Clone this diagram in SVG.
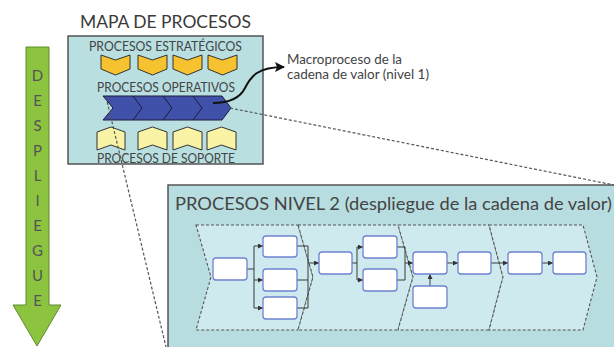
<svg xmlns="http://www.w3.org/2000/svg" width="614" height="347" viewBox="0 0 614 347">
<defs>
<style>
.t{font-family:Lato,"Liberation Sans",sans-serif;fill:#444}
.box{fill:#fff;stroke:#6f82cf;stroke-width:1.3}
.con{fill:none;stroke:#3a3a3a;stroke-width:1}
.dash{fill:none;stroke:#555;stroke-width:1.2;stroke-dasharray:3 2}
.seg{fill:#cfeaee;stroke:#555;stroke-width:1.1;stroke-dasharray:3 2}
.y1{fill:#f6c22f;stroke:#333;stroke-width:1}
.y2{fill:#f9f3a5;stroke:#333;stroke-width:1}
.lt{font-family:Lato,"Liberation Sans",sans-serif;fill:#555;font-size:15px;text-anchor:middle}
</style>
<marker id="ah" viewBox="0 0 6 6" refX="6" refY="3" markerWidth="5" markerHeight="5" orient="auto" markerUnits="userSpaceOnUse">
<path d="M0,0 L6,3 L0,6 Z" fill="#333"/>
</marker>
<marker id="big" viewBox="0 0 10 10" refX="9" refY="5" markerWidth="10" markerHeight="10" orient="auto" markerUnits="userSpaceOnUse">
<path d="M0,0 L10,5 L0,10 L2,5 Z" fill="#111"/>
</marker>
</defs>

<g id="despliegue">
<path d="M26,47 H49 V305 H61 L37,346 L13,305 H26 Z" fill="#8cc43f" stroke="#5d8a2c" stroke-width="1"/>
<text class="lt" x="37.5" y="81">D</text>
<text class="lt" x="37.5" y="106">E</text>
<text class="lt" x="37.5" y="131">S</text>
<text class="lt" x="37.5" y="156">P</text>
<text class="lt" x="37.5" y="181">L</text>
<text class="lt" x="37.5" y="206">I</text>
<text class="lt" x="37.5" y="231">E</text>
<text class="lt" x="37.5" y="256">G</text>
<text class="lt" x="37.5" y="281">U</text>
<text class="lt" x="37.5" y="306">E</text>
</g>

<g id="mapa">
<text class="t" x="80" y="28" font-size="18" textLength="171" lengthAdjust="spacingAndGlyphs" style="fill:#3a3a3a">MAPA DE PROCESOS</text>
<rect x="68" y="36" width="195" height="128" fill="#b9dfe1" stroke="#555" stroke-width="1.5"/>
<text class="t" x="89" y="51" font-size="12.5" textLength="153" lengthAdjust="spacingAndGlyphs">PROCESOS ESTRATÉGICOS</text>
<g id="estrategicos">
<path class="y1" d="M101,55 L115.5,60 L130,55 V69 L115.5,75 L101,69 Z"/>
<path class="y1" d="M138,55 L152.5,60 L167,55 V69 L152.5,75 L138,69 Z"/>
<path class="y1" d="M173,55 L187.5,60 L202,55 V69 L187.5,75 L173,69 Z"/>
<path class="y1" d="M208,55 L222.5,60 L237,55 V69 L222.5,75 L208,69 Z"/>
</g>
<text class="t" x="97" y="92" font-size="12.5" textLength="138" lengthAdjust="spacingAndGlyphs">PROCESOS OPERATIVOS</text>
<g id="operativos">
<path d="M103,96 H222 L231,108 L222,120 H103 L113,108 Z" fill="#3f51a8" stroke="#1c1c3c" stroke-width="1"/>
<path d="M133,96 L142,108 L133,120 M163,96 L172,108 L163,120 M193,96 L202,108 L193,120" fill="none" stroke="#1c1c3c" stroke-width="1"/>
</g>
<g id="soporte">
<path class="y2" d="M97,132 L111,127 L125,132 V150 L111,145 L97,150 Z"/>
<path class="y2" d="M138,132 L152.5,127 L167,132 V150 L152.5,145 L138,150 Z"/>
<path class="y2" d="M173,132 L187.5,127 L202,132 V150 L187.5,145 L173,150 Z"/>
<path class="y2" d="M207,132 L221.5,127 L236,132 V150 L221.5,145 L207,150 Z"/>
</g>
<text class="t" x="97" y="163" font-size="12.5" textLength="138" lengthAdjust="spacingAndGlyphs">PROCESOS DE SOPORTE</text>
</g>

<g id="macro-label">
<text class="t" x="287" y="64" font-size="12.5" textLength="115" lengthAdjust="spacingAndGlyphs">Macroproceso de la</text>
<text class="t" x="287" y="79" font-size="12.5" textLength="142" lengthAdjust="spacingAndGlyphs">cadena de valor (nivel 1)</text>
</g>

<g id="nivel2">
<rect x="168" y="185" width="460" height="180" fill="#b8dde0" stroke="#555" stroke-width="1.5"/>
<text class="t" x="175" y="210" font-size="17" textLength="437" lengthAdjust="spacingAndGlyphs">PROCESOS NIVEL 2 (despliegue de la cadena de valor)</text>
<path class="seg" d="M196,225 H298 L313,277 L298,330 H196 L211,277 Z"/>
<path class="seg" d="M298,225 H398 L413,277 L398,330 H298 L313,277 Z"/>
<path class="seg" d="M398,225 H489 L503,277 L489,330 H398 L413,277 Z"/>
<path class="seg" d="M489,225 H583 L597,277 L583,330 H489 L503,277 Z"/>
</g>

<g id="connectors">
<path class="dash" d="M106,97 L166,347"/>
<path class="dash" d="M230,108 L614,185"/>
<path d="M213,103 C230,103 240,98 245,88 C251,76 258,67 284,67" fill="none" stroke="#111" stroke-width="2" marker-end="url(#big)"/>
<path class="con" d="M247,269 H254 M254,246 V308"/>
<path class="con" d="M254,246 H263" marker-end="url(#ah)"/>
<path class="con" d="M254,280 H263" marker-end="url(#ah)"/>
<path class="con" d="M254,308 H263" marker-end="url(#ah)"/>
<path class="con" d="M297,246 H308 M297,280 H308 M297,308 H308 M308,246 V308"/>
<path class="con" d="M308,263 H319" marker-end="url(#ah)"/>
<path class="con" d="M352,263 H357 M357,247 V280"/>
<path class="con" d="M357,247 H363" marker-end="url(#ah)"/>
<path class="con" d="M357,280 H363" marker-end="url(#ah)"/>
<path class="con" d="M397,247 H405 M397,280 H405 M405,247 V280"/>
<path class="con" d="M405,263 H413" marker-end="url(#ah)"/>
<path class="con" d="M447,263 H458" marker-end="url(#ah)"/>
<path class="con" d="M491,263 H508" marker-end="url(#ah)"/>
<path class="con" d="M542,263 H553" marker-end="url(#ah)"/>
<path class="con" d="M430,286 V274" marker-end="url(#ah)"/>
</g>

<g id="box-a"><rect class="box" x="213" y="258" width="34" height="22" rx="3"/></g>
<g id="box-b1"><rect class="box" x="263" y="236" width="34" height="21" rx="3"/></g>
<g id="box-b2"><rect class="box" x="263" y="269" width="34" height="22" rx="3"/></g>
<g id="box-b3"><rect class="box" x="263" y="297" width="34" height="22" rx="3"/></g>
<g id="box-c"><rect class="box" x="319" y="252" width="33" height="22" rx="3"/></g>
<g id="box-d1"><rect class="box" x="363" y="236" width="34" height="22" rx="3"/></g>
<g id="box-d2"><rect class="box" x="363" y="269" width="34" height="22" rx="3"/></g>
<g id="box-e"><rect class="box" x="413" y="252" width="34" height="22" rx="3"/></g>
<g id="box-f"><rect class="box" x="413" y="286" width="34" height="22" rx="3"/></g>
<g id="box-g"><rect class="box" x="458" y="252" width="33" height="22" rx="3"/></g>
<g id="box-h"><rect class="box" x="508" y="252" width="34" height="22" rx="3"/></g>
<g id="box-i"><rect class="box" x="553" y="252" width="33" height="22" rx="3"/></g>
</svg>
